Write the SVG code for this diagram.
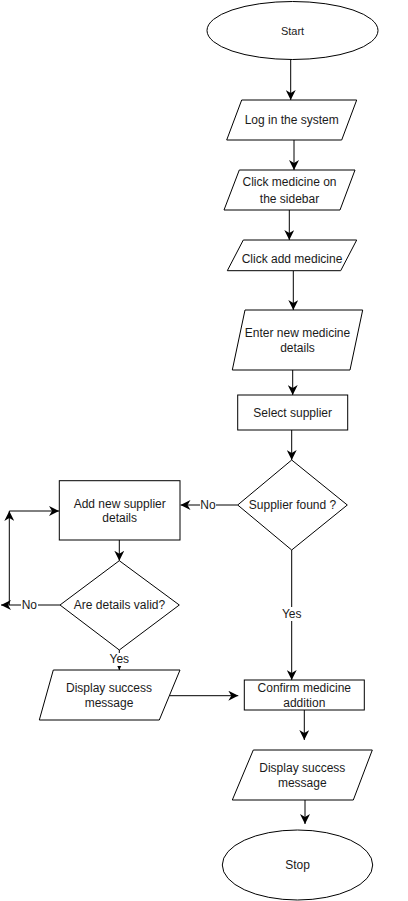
<svg xmlns="http://www.w3.org/2000/svg" width="408" height="901" viewBox="0 0 408 901">
<style>
.s{fill:#fff;stroke:#000;stroke-width:1}
.t{font-family:"Liberation Sans",Arial,sans-serif;font-size:12px;fill:#1a1a1a;text-anchor:middle;dominant-baseline:central}
.e{fill:none;stroke:#000;stroke-width:1;marker-end:url(#a)}
.l{fill:none;stroke:#000;stroke-width:1}
.lb{fill:#fff;stroke:none}
</style>
<defs>
<marker id="a" viewBox="0 0 10 10" refX="10" refY="5" markerWidth="10" markerHeight="10" markerUnits="userSpaceOnUse" orient="auto">
<path d="M0,0 L10,5 L0,10 L3,5 Z" fill="#000"/>
</marker>
</defs>
<rect width="408" height="901" fill="#fff"/>
<g id="connectors">
<line class="e" x1="290.7" y1="59" x2="290.7" y2="100"/>
<line class="e" x1="294" y1="140" x2="294" y2="170"/>
<line class="e" x1="289.3" y1="210" x2="289.3" y2="240"/>
<line class="e" x1="293.3" y1="271" x2="293.3" y2="310"/>
<line class="e" x1="292.7" y1="370" x2="292.7" y2="395"/>
<line class="e" x1="291.7" y1="430" x2="291.7" y2="460"/>
<line class="e" x1="237.7" y1="505" x2="180.5" y2="505"/>
<line class="e" x1="119.3" y1="540" x2="119.3" y2="560.7"/>
<line class="e" x1="60" y1="605" x2="1" y2="605"/>
<line class="e" x1="9.3" y1="605" x2="9.3" y2="511"/>
<line class="e" x1="9.3" y1="511" x2="59" y2="511"/>
<line class="e" x1="119.3" y1="650" x2="119.3" y2="670"/>
<line class="e" x1="170" y1="695.7" x2="238.3" y2="695.7"/>
<line class="e" x1="291.7" y1="550" x2="291.7" y2="680"/>
<line class="e" x1="304.3" y1="710" x2="304.3" y2="740"/>
<line class="e" x1="305" y1="800" x2="305" y2="824"/>
<rect class="lb" x="200" y="498" width="16" height="14"/>
<text class="t" x="208" y="505">No</text>
<rect class="lb" x="21" y="598" width="17" height="14"/>
<text class="t" x="29.3" y="605">No</text>
<rect class="lb" x="108" y="653" width="22" height="13"/>
<text class="t" x="119.3" y="659.3">Yes</text>
<rect class="lb" x="280" y="607" width="23" height="14"/>
<text class="t" x="291.7" y="614">Yes</text>
</g>
<g id="start">
<ellipse class="s" cx="292.5" cy="30.5" rx="85.5" ry="29"/>
<text class="t" x="292.5" y="30.5" style="font-size:11px">Start</text>
</g>
<g id="login">
<polygon class="s" points="241.7,100 356.7,100 341.7,140 226.7,140"/>
<text class="t" x="291.7" y="120">Log in the system</text>
</g>
<g id="clickmed">
<polygon class="s" points="239.3,170 355,170 340,210 224,210"/>
<text class="t" x="289.5" y="182">Click medicine on</text>
<text class="t" x="289.5" y="199">the sidebar</text>
</g>
<g id="clickadd">
<polygon class="s" points="243.3,240 356.7,240 340.7,270.7 227.3,270.7"/>
<text class="t" x="292" y="259">Click add medicine</text>
</g>
<g id="enter">
<polygon class="s" points="245,310 362.7,310 350,370 232.3,370"/>
<text class="t" x="297.5" y="333">Enter new medicine</text>
<text class="t" x="297.5" y="348">details</text>
</g>
<g id="select">
<rect class="s" x="237.7" y="395" width="110" height="35"/>
<text class="t" x="292.7" y="412.5">Select supplier</text>
</g>
<g id="found">
<polygon class="s" points="291.7,460 347.3,505 291.7,550 237.7,505"/>
<text class="t" x="292.5" y="505">Supplier found ?</text>
</g>
<g id="addsupplier">
<rect class="s" x="59.3" y="480.7" width="120.7" height="59.3"/>
<text class="t" x="119.7" y="503.5">Add new supplier</text>
<text class="t" x="119.7" y="518">details</text>
</g>
<g id="valid">
<polygon class="s" points="119.3,560.7 179.3,605 119.3,650 60,605"/>
<text class="t" x="119.5" y="605">Are details valid?</text>
</g>
<g id="display1">
<polygon class="s" points="53.3,670 180,670 159.3,720 39.3,720"/>
<text class="t" x="109" y="688">Display success</text>
<text class="t" x="109" y="702.5">message</text>
</g>
<g id="confirm">
<rect class="s" x="244.3" y="680" width="120" height="30"/>
<text class="t" x="304.3" y="688">Confirm medicine</text>
<text class="t" x="304.3" y="702.5">addition</text>
</g>
<g id="display2">
<polygon class="s" points="253.3,750 372.3,750 353.3,800 232.3,800"/>
<text class="t" x="302.3" y="768">Display success</text>
<text class="t" x="302.3" y="783">message</text>
</g>
<g id="stop">
<ellipse class="s" cx="297.5" cy="865" rx="75.2" ry="35"/>
<text class="t" x="297.5" y="865">Stop</text>
</g>
</svg>
